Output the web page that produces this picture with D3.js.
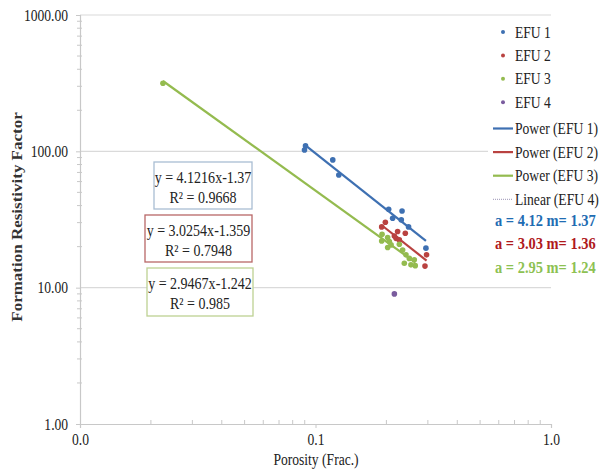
<!DOCTYPE html>
<html>
<head>
<meta charset="utf-8">
<script src="https://cdn.jsdelivr.net/npm/d3@7"></script>
<style>
	body { margin: 0; background: #fff; }
	svg { display: block; }
	svg text { font-family: "Liberation Serif", serif; }
</style>
</head>
<body>
<svg id="chart" width="615" height="473"></svg>
<script>
// EFU data (porosity as fraction, formation resistivity factor)
const efu1Porosity = [0.0898, 0.0907, 0.1184, 0.1256, 0.2045, 0.2331, 0.2126, 0.2314, 0.2484, 0.2944];
const efu1Frf = [102.4, 109.6, 86.5, 67.1, 37.6, 36.5, 32.3, 31.4, 27.9, 19.5];

const efu2Porosity = [0.198, 0.191, 0.2232, 0.2406, 0.2198, 0.2270, 0.2162, 0.2962, 0.2917];
const efu2Frf = [30.2, 27.9, 25.8, 25.1, 23.0, 22.4, 23.9, 17.4, 14.4];

const efu3Porosity = [0.0225, 0.1917, 0.191, 0.2025, 0.2059, 0.2094, 0.2025, 0.227, 0.2344, 0.2422, 0.2502, 0.2383, 0.2627, 0.2652, 0.2543];
const efu3Frf = [316, 24.6, 22.0, 23.3, 21.8, 20.6, 19.7, 20.8, 18.9, 17.4, 16.4, 15.1, 16.0, 14.5, 14.7];

const efu4Porosity = [0.2162];
const efu4Frf = [9.0];

// power fits  y = a * x^-m
const fitA = [4.1216, 3.0254, 2.9467];
const fitM = [1.37, 1.359, 1.242];
const fitR2 = ["0.9668", "0.7948", "0.985"];

const seriesNames = ["EFU 1", "EFU 2", "EFU 3", "EFU 4"];
const xTicks = [0.01, 0.1, 1];
const yTicks = [1, 10, 100, 1000];

const colors = ["#3e70b2", "#b94240", "#94bb4f", "#7a5c9e"];
const labelColors = ["#1f6db3", "#b0191c", "#8dc152"];

// the source picture is squeezed sideways, so text is narrowed to match
const squeeze = 0.85;

let svg = d3.select("#chart");

let x = d3.scaleLog().domain([0.01, 1]).range([80, 551]);
let y = d3.scaleLog().domain([1, 1000]).range([424, 15]);

/**
 * Text helper: places narrowed serif text
 */
function addText(parent, tx, ty, str, size, anchor) {
	return parent.append("text")
		.attr("transform", "translate(" + tx + "," + ty + ") scale(" + squeeze + ",1)")
		.attr("text-anchor", anchor || "start")
		.style("font-family", "Liberation Serif")
		.style("font-size", size + "px")
		.attr("fill", "#222")
		.text(str);
}

/**
 * Gridlines
 */
svg.append("g")
	.selectAll("line")
	.data(yTicks.slice(1))
	.enter()
	.append("line")
	.attr("x1", 80).attr("x2", 551)
	.attr("y1", d => y(d)).attr("y2", d => y(d))
	.attr("stroke", "#dadada")
	.attr("stroke-width", 1.2);

/**
 * Axes
 */
let minorY = [];
let minorX = [];
for (let dec = 1; dec < 1000; dec *= 10) {
	for (let k = 2; k < 10; k++) minorY.push(dec * k);
}
for (let dec = 0.01; dec < 1; dec *= 10) {
	for (let k = 2; k < 10; k++) minorX.push(dec * k);
}

let yAxis = svg.append("g")
	.attr("transform", "translate(80,0)")
	.call(d3.axisLeft(y).tickValues(yTicks).tickFormat(d3.format(".2f")).tickSize(4).tickPadding(8));

let xAxis = svg.append("g")
	.attr("transform", "translate(0,424)")
	.call(d3.axisBottom(x).tickValues(xTicks).tickFormat(d3.format(".1f")).tickSize(4).tickPadding(6));

[yAxis, xAxis].forEach(function(ax) {
	ax.select(".domain").attr("stroke", "#c8c8c8").attr("stroke-width", 1.2);
	ax.selectAll(".tick line").attr("stroke", "#c8c8c8");
	ax.selectAll(".tick text")
		.attr("fill", "#222")
		.attr("transform", "scale(" + squeeze + ",1)")
		.style("font-family", "Liberation Serif")
		.style("font-size", "16px");
});
yAxis.selectAll(".tick text").attr("x", -14);

yAxis.selectAll(".minor")
	.data(minorY)
	.enter()
	.append("line")
	.attr("x1", -3).attr("x2", 2)
	.attr("y1", d => y(d)).attr("y2", d => y(d))
	.attr("stroke", "#c8c8c8");

xAxis.selectAll(".minor")
	.data(minorX)
	.enter()
	.append("line")
	.attr("x1", d => x(d)).attr("x2", d => x(d))
	.attr("y1", -4).attr("y2", 0)
	.attr("stroke", "#c8c8c8");

// axis titles
svg.append("text")
	.attr("transform", "translate(22,217) rotate(-90) scale(1," + squeeze + ")")
	.attr("text-anchor", "middle")
	.style("font-family", "Liberation Serif")
	.style("font-size", "17px")
	.style("font-weight", "bold")
	.attr("fill", "#333")
	.text("Formation Resistivity Factor");

addText(svg, 316, 465, "Porosity (Frac.)", 16, "middle");

/**
 * Trend lines
 */
let porosities = [efu1Porosity, efu2Porosity, efu3Porosity];
let line = d3.line().x(d => x(d[0])).y(d => y(d[1]));

porosities.forEach(function(px, i) {
	let ext = d3.extent(px);
	let pts = ext.map(v => [v, fitA[i] * Math.pow(v, -fitM[i])]);
	svg.append("path")
		.datum(pts)
		.attr("d", line)
		.attr("fill", "none")
		.attr("stroke", colors[i])
		.attr("stroke-width", 2.2);
});

/**
 * Points
 */
let frfs = [efu1Frf, efu2Frf, efu3Frf, efu4Frf];
let allPorosity = porosities.concat([efu4Porosity]);

allPorosity.forEach(function(px, i) {
	svg.append("g")
		.selectAll("circle")
		.data(px.map((v, j) => [v, frfs[i][j]]))
		.enter()
		.append("circle")
		.attr("cx", d => x(d[0]))
		.attr("cy", d => y(d[1]))
		.attr("r", 2.8)
		.attr("fill", colors[i]);
});

/**
 * Equation boxes
 */
let boxes = [
	{ x: 154, y: 162, w: 98, h: 47, stroke: "#a9bdd3" },
	{ x: 145, y: 215, w: 107, h: 47, stroke: "#b86767" },
	{ x: 147, y: 268, w: 106, h: 48, stroke: "#bdd193" }
];

boxes.forEach(function(b, i) {
	let g = svg.append("g");
	g.append("rect")
		.attr("x", b.x).attr("y", b.y)
		.attr("width", b.w).attr("height", b.h)
		.attr("fill", "#fff")
		.attr("stroke", b.stroke)
		.attr("stroke-width", 1.3);
	addText(g, b.x + b.w / 2, b.y + 21, "y = " + fitA[i] + "x-" + fitM[i], 16.5, "middle");
	addText(g, b.x + b.w / 2, b.y + 41, "R\u00b2 = " + fitR2[i], 16.5, "middle");
});

/**
 * Legend
 */
let legend = svg.append("g");
legend.append("rect")
	.attr("x", 488).attr("y", 19)
	.attr("width", 127).attr("height", 258)
	.attr("fill", "#fff");

seriesNames.forEach(function(name, i) {
	let ly = 32 + i * 23.4;
	legend.append("circle")
		.attr("cx", 503).attr("cy", ly)
		.attr("r", 2)
		.attr("fill", colors[i]);
	addText(legend, 515, ly + 5.5, name, 16);
});

seriesNames.forEach(function(name, i) {
	let ly = 128.5 + i * 23.6;
	legend.append("line")
		.attr("x1", 493).attr("x2", 513)
		.attr("y1", ly).attr("y2", ly)
		.attr("stroke", i < 3 ? colors[i] : "#9a93b5")
		.attr("stroke-width", i < 3 ? 2.2 : 1)
		.attr("stroke-dasharray", i < 3 ? null : "1,1");
	addText(legend, 515, ly + 5.5, (i < 3 ? "Power (" : "Linear (") + name + ")", 16);
});

fitA.forEach(function(a, i) {
	addText(legend, 495, 226 + i * 23.3, "a = " + a.toFixed(2) + " m= " + fitM[i].toFixed(2), 17)
		.style("font-weight", "bold")
		.attr("fill", labelColors[i]);
});
</script>
</body>
</html>
